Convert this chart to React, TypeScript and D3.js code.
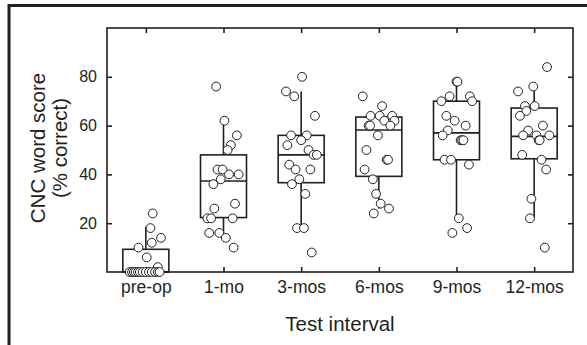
import React, { useRef, useEffect } from "react";
import * as d3 from "d3";

// test intervals
const categories = ["pre-op", "1-mo", "3-mos", "6-mos", "9-mos", "12-mos"];

// CNC scores (% correct) per interval
const preOp = [24, 18, 14, 12, 10, 6, 2, 0, 0, 0, 0, 0, 0, 0, 0, 0, 0, 0, 0, 0];
const mo1 = [76, 62, 56, 52, 50, 42, 42, 40, 40, 38, 36, 28, 26, 22, 22, 22, 16, 16, 14, 10];
const mos3 = [80, 74, 72, 64, 56, 56, 54, 52, 50, 48, 48, 44, 42, 42, 38, 36, 32, 18, 18, 8];
const mos6 = [72, 68, 64, 64, 64, 62, 62, 60, 60, 60, 56, 50, 46, 46, 42, 38, 32, 28, 26, 24];
const mos9 = [78, 78, 72, 72, 70, 70, 64, 62, 60, 58, 56, 54, 54, 54, 46, 46, 44, 22, 18, 16];
const mos12 = [84, 76, 74, 68, 68, 66, 64, 60, 58, 56, 56, 56, 54, 54, 48, 46, 42, 30, 22, 10];

// horizontal jitter of each point, as a fraction of box width
const jitPreOp = [0.15, 0.1, 0.33, 0.13, -0.16, 0.02, 0.26, -0.35, -0.3, -0.26, -0.22, -0.17, -0.13, -0.07, 0, 0.07, 0.13, 0.2, 0.26, 0.3];
const jitMo1 = [-0.16, 0.02, 0.29, 0.16, 0.09, -0.13, -0.02, 0.12, 0.33, -0.06, -0.22, 0.25, -0.2, -0.35, -0.27, 0.2, -0.31, -0.09, 0.05, 0.22];
const jitMos3 = [0.02, -0.33, -0.15, 0.3, -0.22, 0.12, 0, -0.3, 0.16, 0.27, 0.34, -0.26, -0.12, 0.2, -0.04, -0.2, 0.09, -0.09, 0.06, 0.23];
const jitMos6 = [-0.35, 0.07, -0.18, 0.02, 0.29, 0.12, 0.34, -0.22, -0.19, 0.25, -0.02, -0.27, 0.17, 0.2, -0.31, -0.13, -0.06, 0.04, 0.22, -0.11];
const jitMos9 = [0, 0.02, -0.15, 0.29, -0.33, 0.34, -0.22, -0.04, 0.2, -0.19, -0.3, 0.09, 0.12, 0.15, -0.26, -0.12, 0.27, 0.05, 0.23, -0.09];
const jitMos12 = [0.28, -0.02, -0.35, -0.2, 0.01, -0.17, -0.31, 0.19, -0.13, -0.24, 0.05, 0.33, 0.1, 0.12, -0.26, 0.16, 0.26, -0.06, -0.09, 0.23];

// box statistics as drawn
const q1 = [0, 22.3, 36.6, 39.2, 46, 46.4];
const median = [0, 37.3, 48, 58.2, 57, 55.6];
const q3 = [9.3, 48, 56, 63.5, 70, 67.2];
const whiskerLow = [0, 16, 18, 26, 21, 22];
const whiskerHigh = [18.5, 62, 74, 63.5, 78, 76];

const yTicks = [20, 40, 60, 80];

const scores = [preOp, mo1, mos3, mos6, mos9, mos12];
const jitters = [jitPreOp, jitMo1, jitMos3, jitMos6, jitMos9, jitMos12];

const W = 587;
const H = 345;
const margin = { left: 107, top: 28, right: 14, bottom: 73 };
const ink = "#231f20";
const font = "'Liberation Sans', Arial, Helvetica, sans-serif";

const App = () => {
  const ref = useRef<SVGSVGElement>(null);

  useEffect(() => {
    if (!ref.current) return;
    const svg = d3.select(ref.current);
    svg.selectAll("*").remove();

    const w = W - margin.left - margin.right;
    const h = H - margin.top - margin.bottom;

    // outer figure frame (left and top edges visible)
    svg.append("path")
      .attr("d", `M9,${H} V5.5 H${W}`)
      .attr("fill", "none")
      .attr("stroke", ink)
      .attr("stroke-width", 3);

    const g = svg.append("g")
      .attr("transform", `translate(${margin.left},${margin.top})`);

    const x = d3.scalePoint<string>().domain(categories).range([0, w]).padding(0.5);
    const y = d3.scaleLinear().domain([0, 100]).range([h, 0]);
    const boxW = 46;

    // plot frame
    g.append("rect")
      .attr("width", w)
      .attr("height", h)
      .attr("fill", "none")
      .attr("stroke", ink)
      .attr("stroke-width", 1.6);

    const axisStyle = (sel: any, size: number) => {
      sel.select(".domain").remove();
      sel.selectAll(".tick line").attr("stroke", ink).attr("stroke-width", 1.6);
      sel.selectAll(".tick text")
        .attr("fill", ink)
        .style("font-family", font)
        .style("font-size", size + "px");
    };

    // left axis, ticks inside
    g.append("g")
      .call(d3.axisLeft(y).tickValues(yTicks).tickSizeInner(-5).tickSizeOuter(0).tickPadding(10))
      .call(axisStyle, 16);

    // right axis, ticks inside, no labels
    g.append("g")
      .attr("transform", `translate(${w},0)`)
      .call(d3.axisRight(y).tickValues(yTicks).tickSizeInner(-5).tickSizeOuter(0).tickFormat(() => ""))
      .call(axisStyle, 16);

    // bottom axis
    g.append("g")
      .attr("transform", `translate(0,${h})`)
      .call(d3.axisBottom(x).tickSizeInner(-5).tickSizeOuter(0).tickPadding(8.5))
      .call(axisStyle, 17.5);

    // top axis
    g.append("g")
      .call(d3.axisTop(x).tickSizeInner(-5).tickSizeOuter(0).tickFormat(() => ""))
      .call(axisStyle, 16);

    // boxes
    const boxes = g.selectAll(".box")
      .data(categories)
      .enter()
      .append("g")
      .attr("class", "box")
      .attr("transform", (d) => `translate(${x(d)},0)`);

    boxes.append("line")
      .attr("y1", (d, i) => y(whiskerHigh[i]))
      .attr("y2", (d, i) => y(q3[i]))
      .attr("stroke", ink)
      .attr("stroke-width", 1.6);
    boxes.append("line")
      .attr("y1", (d, i) => y(q1[i]))
      .attr("y2", (d, i) => y(whiskerLow[i]))
      .attr("stroke", ink)
      .attr("stroke-width", 1.6);
    boxes.append("rect")
      .attr("x", -boxW / 2)
      .attr("width", boxW)
      .attr("y", (d, i) => y(q3[i]))
      .attr("height", (d, i) => y(q1[i]) - y(q3[i]))
      .attr("fill", "none")
      .attr("stroke", ink)
      .attr("stroke-width", 1.6);
    boxes.append("line")
      .attr("x1", -boxW / 2)
      .attr("x2", boxW / 2)
      .attr("y1", (d, i) => y(median[i]))
      .attr("y2", (d, i) => y(median[i]))
      .attr("stroke", ink)
      .attr("stroke-width", 1.6);

    // individual scores
    const points = categories.flatMap((c, i) =>
      scores[i].map((v, j) => ({ cat: c, value: v, jit: jitters[i][j] }))
    );
    g.selectAll(".pt")
      .data(points)
      .enter()
      .append("circle")
      .attr("class", "pt")
      .attr("cx", (d) => (x(d.cat) as number) + d.jit * boxW)
      .attr("cy", (d) => y(d.value))
      .attr("r", 4.4)
      .attr("fill", "white")
      .attr("stroke", ink)
      .attr("stroke-width", 1);

    // axis titles
    svg.append("text")
      .attr("x", margin.left + w / 2)
      .attr("y", 331)
      .attr("text-anchor", "middle")
      .attr("fill", ink)
      .style("font-family", font)
      .style("font-size", "20.5px")
      .text("Test interval");

    const yt = svg.append("text")
      .attr("transform", `translate(45,${margin.top + h / 2 - 2}) rotate(-90)`)
      .attr("text-anchor", "middle")
      .attr("fill", ink)
      .style("font-family", font)
      .style("font-size", "20.5px");
    yt.append("tspan").attr("x", 0).attr("dy", 0).text("CNC word score");
    yt.append("tspan").attr("x", 0).attr("dy", 22).text("(% correct)");
  }, []);

  return (
    <svg
      ref={ref}
      width={W}
      height={H}
      style={{ position: "absolute", left: 0, top: 0, background: "white" }}
    />
  );
};

export default App;
